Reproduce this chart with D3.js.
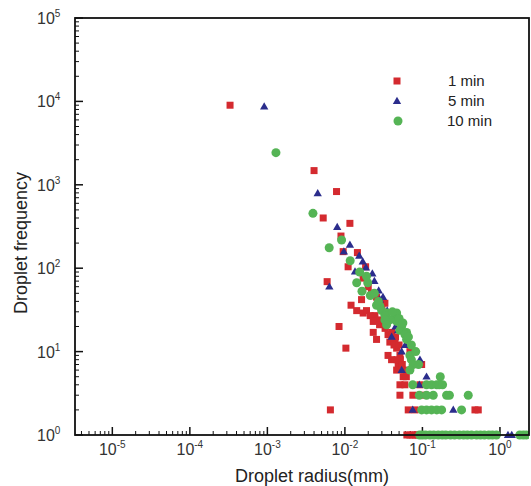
<!DOCTYPE html>
<html>
<head>
<meta charset="utf-8">
<script src="https://cdn.jsdelivr.net/npm/d3@7"></script>
<style>
  body { margin: 0; background: #fff; }
  svg { display: block; font-family: "Liberation Sans", Arial, sans-serif; }
</style>
</head>
<body>
<div id="chart"></div>
<script>
// droplet radius (mm), frequency
const min1 = [
  [3.3e-4, 9000], [4.0e-3, 1480], [7.8e-3, 830], [5.25e-3, 400], [0.0116, 345], [8.9e-3, 243],
  [9.5e-3, 158], [0.0145, 154], [0.0110, 104], [0.0185, 104], [5.9e-3, 69], [0.0172, 76],
  [0.0256, 45], [0.0164, 42], [0.0120, 36], [0.0142, 31], [0.0328, 38], [0.0172, 29],
  [0.0190, 31], [0.0244, 27], [0.0212, 27], [0.0269, 24], [0.0232, 23], [8.4e-3, 20],
  [0.0232, 17], [0.0256, 14], [0.0401, 17], [0.0442, 14], [0.038, 13], [0.0465, 11],
  [0.0103, 11], [0.0513, 9], [0.036, 9], [0.040, 8], [0.069, 10], [0.080, 10], [0.0487, 7],
  [0.0977, 7], [0.0465, 6], [0.0565, 5], [0.0513, 4], [0.0594, 4], [0.0929, 4], [0.0513, 3],
  [0.0753, 3], [0.105, 3], [6.5e-3, 2], [0.0656, 2], [0.080, 2], [0.476, 2], [0.525, 2],
  [0.020, 60], [0.022, 50], [0.030, 33], [0.028, 21], [0.033, 19], [0.036, 16], [0.043, 12],
  [0.045, 15], [0.050, 12], [0.052, 8], [0.047, 8], [0.055, 7], [0.062, 5], [0.058, 6],
  [0.063, 1], [0.069, 1], [0.075, 1], [0.082, 1], [0.088, 1]
];
const min5 = [
  [9.1e-4, 8650], [4.46e-3, 790], [7.96e-3, 312], [0.0116, 191], [9.7e-3, 158], [0.0153, 141],
  [0.0187, 102], [0.0135, 91], [0.0226, 86], [6.3e-3, 60], [0.0273, 54], [0.0282, 42],
  [0.0351, 31], [0.0338, 24], [0.0484, 18], [0.0401, 15], [0.0539, 10], [0.0929, 8],
  [0.0883, 7], [0.054, 6], [0.113, 5], [0.0911, 4], [0.075, 2], [0.250, 2],
  [0.017, 120], [0.024, 70], [0.031, 45], [0.041, 25], [0.045, 20], [0.060, 12], [0.070, 9],
  [0.079, 10], [1.27, 1], [1.42, 1]
];
const min10 = [
  [1.29e-3, 2430], [3.87e-3, 455], [9.06e-3, 218], [6.27e-3, 176], [0.0117, 123], [0.0142, 67],
  [0.0197, 67], [0.0166, 53], [0.0213, 47], [0.0256, 36], [0.0283, 35], [0.0298, 31],
  [0.0345, 29], [0.0442, 27], [0.0328, 27], [0.0381, 24], [0.0465, 29], [0.0328, 24],
  [0.0345, 21], [0.0465, 23], [0.0539, 20], [0.0513, 18], [0.0625, 17], [0.0595, 16],
  [0.0625, 14], [0.069, 9], [0.072, 8], [0.076, 7], [0.089, 7], [0.069, 6], [0.170, 5],
  [0.0155, 90], [0.019, 80], [0.024, 50], [0.027, 40], [0.041, 30], [0.050, 25], [0.056, 22],
  [0.066, 15], [0.072, 12], [0.082, 10],
  [0.075, 4], [0.113, 4], [0.131, 4], [0.153, 4], [0.165, 4], [0.182, 4],
  [0.0911, 3], [0.113, 3], [0.138, 3], [0.205, 3], [0.223, 3], [0.390, 3],
  [0.0977, 2], [0.113, 2], [0.131, 2], [0.153, 2], [0.177, 2], [0.320, 2],
  [0.092, 1], [0.10, 1], [0.11, 1], [0.125, 1], [0.14, 1], [0.16, 1], [0.18, 1], [0.2, 1],
  [0.23, 1], [0.26, 1], [0.3, 1], [0.34, 1], [0.38, 1], [0.43, 1], [0.5, 1], [0.56, 1],
  [0.63, 1], [0.72, 1], [0.8, 1], [0.9, 1], [1.8, 1], [2.0, 1], [2.2, 1]
];
const seriesNames = ["1 min", "5 min", "10 min"];
const xTickExp = [-5, -4, -3, -2, -1, 0];
const yTickExp = [0, 1, 2, 3, 4, 5];

const width = 531, height = 486;
const margin = { top: 18, right: 2, bottom: 51, left: 75 };
const colors = ["#d42a2f", "#2b2d8c", "#55b455"];

const svg = d3.select("#chart").append("svg")
  .attr("width", width)
  .attr("height", height);

const x = d3.scaleLog()
  .domain([3.3e-6, 2.37])
  .range([margin.left, width - margin.right]);
const y = d3.scaleLog()
  .domain([1, 1e5])
  .range([height - margin.bottom, margin.top]);

const x0 = margin.left, x1 = width - margin.right;
const y0 = height - margin.bottom, y1 = margin.top;

// ticks, pointing inward
const axisG = svg.append("g").attr("stroke", "#111");
x.ticks().forEach(t => {
  const major = Math.abs(Math.log10(t) - Math.round(Math.log10(t))) < 1e-9;
  axisG.append("line")
    .attr("x1", x(t)).attr("x2", x(t))
    .attr("y1", y0).attr("y2", y0 - (major ? 8 : 4))
    .attr("stroke-width", major ? 1.5 : 1);
});
y.ticks().forEach(t => {
  const major = Math.abs(Math.log10(t) - Math.round(Math.log10(t))) < 1e-9;
  axisG.append("line")
    .attr("x1", x0).attr("x2", x0 + (major ? 8 : 4))
    .attr("y1", y(t)).attr("y2", y(t))
    .attr("stroke-width", major ? 1.5 : 1);
});

// tick labels
const labelColor = "#333";
xTickExp.forEach(e => {
  const t = svg.append("text")
    .attr("x", x(Math.pow(10, e)))
    .attr("y", y0 + 20)
    .attr("text-anchor", "middle")
    .attr("fill", labelColor)
    .attr("font-size", 16);
  t.append("tspan").text("10");
  t.append("tspan").attr("font-size", 10).attr("dy", -7).text(e);
});
yTickExp.forEach(e => {
  const t = svg.append("text")
    .attr("x", 37)
    .attr("y", y(Math.pow(10, e)) + 6)
    .attr("fill", labelColor)
    .attr("font-size", 16);
  t.append("tspan").text("10");
  t.append("tspan").attr("font-size", 10).attr("dy", -7).text(e);
});

// axis titles
svg.append("text")
  .attr("x", 312).attr("y", 482)
  .attr("text-anchor", "middle")
  .attr("font-size", 18)
  .attr("fill", "#222")
  .text("Droplet radius(mm)");
svg.append("text")
  .attr("transform", `translate(27,243) rotate(-90)`)
  .attr("text-anchor", "middle")
  .attr("font-size", 18)
  .attr("fill", "#222")
  .text("Droplet frequency");

// markers
const sq = 7;
const tri = d3.symbol().type(d3.symbolTriangle).size(30);
function drawSquares(g, data, color) {
  g.selectAll("rect").data(data).join("rect")
    .attr("x", d => x(d[0]) - sq / 2)
    .attr("y", d => y(d[1]) - sq / 2)
    .attr("width", sq).attr("height", sq)
    .attr("fill", color);
}
function drawTriangles(g, data, color) {
  g.selectAll("path").data(data).join("path")
    .attr("d", tri)
    .attr("transform", d => `translate(${x(d[0])},${y(d[1]) + 0.5})`)
    .attr("fill", color);
}
function drawCircles(g, data, color) {
  g.selectAll("circle").data(data).join("circle")
    .attr("cx", d => x(d[0]))
    .attr("cy", d => y(d[1]))
    .attr("r", 4.5)
    .attr("fill", color);
}
svg.append("clipPath").attr("id", "clip")
  .append("rect").attr("x", x0).attr("y", y1 - 5).attr("width", x1 - x0).attr("height", y0 - y1 + 10);
const marks = svg.append("g").attr("clip-path", "url(#clip)");
drawSquares(marks.append("g"), min1, colors[0]);
drawTriangles(marks.append("g"), min5, colors[1]);
drawCircles(marks.append("g"), min10, colors[2]);

// frame
svg.append("rect")
  .attr("x", x0).attr("y", y1)
  .attr("width", x1 - x0).attr("height", y0 - y1)
  .attr("fill", "none")
  .attr("stroke", "#111")
  .attr("stroke-width", 1.8);

// legend
const legend = svg.append("g");
const legY = [81, 101, 121];
drawSquares(legend.append("g"), [[x.invert(397), y.invert(legY[0])]], colors[0]);
drawTriangles(legend.append("g"), [[x.invert(397), y.invert(legY[1])]], colors[1]);
drawCircles(legend.append("g"), [[x.invert(398), y.invert(legY[2])]], colors[2]);
seriesNames.forEach((s, i) => {
  legend.append("text")
    .attr("x", i < 2 ? 448 : 447)
    .attr("y", legY[i] + 5)
    .attr("font-size", 15)
    .attr("fill", "#222")
    .text(s);
});
</script>
</body>
</html>
